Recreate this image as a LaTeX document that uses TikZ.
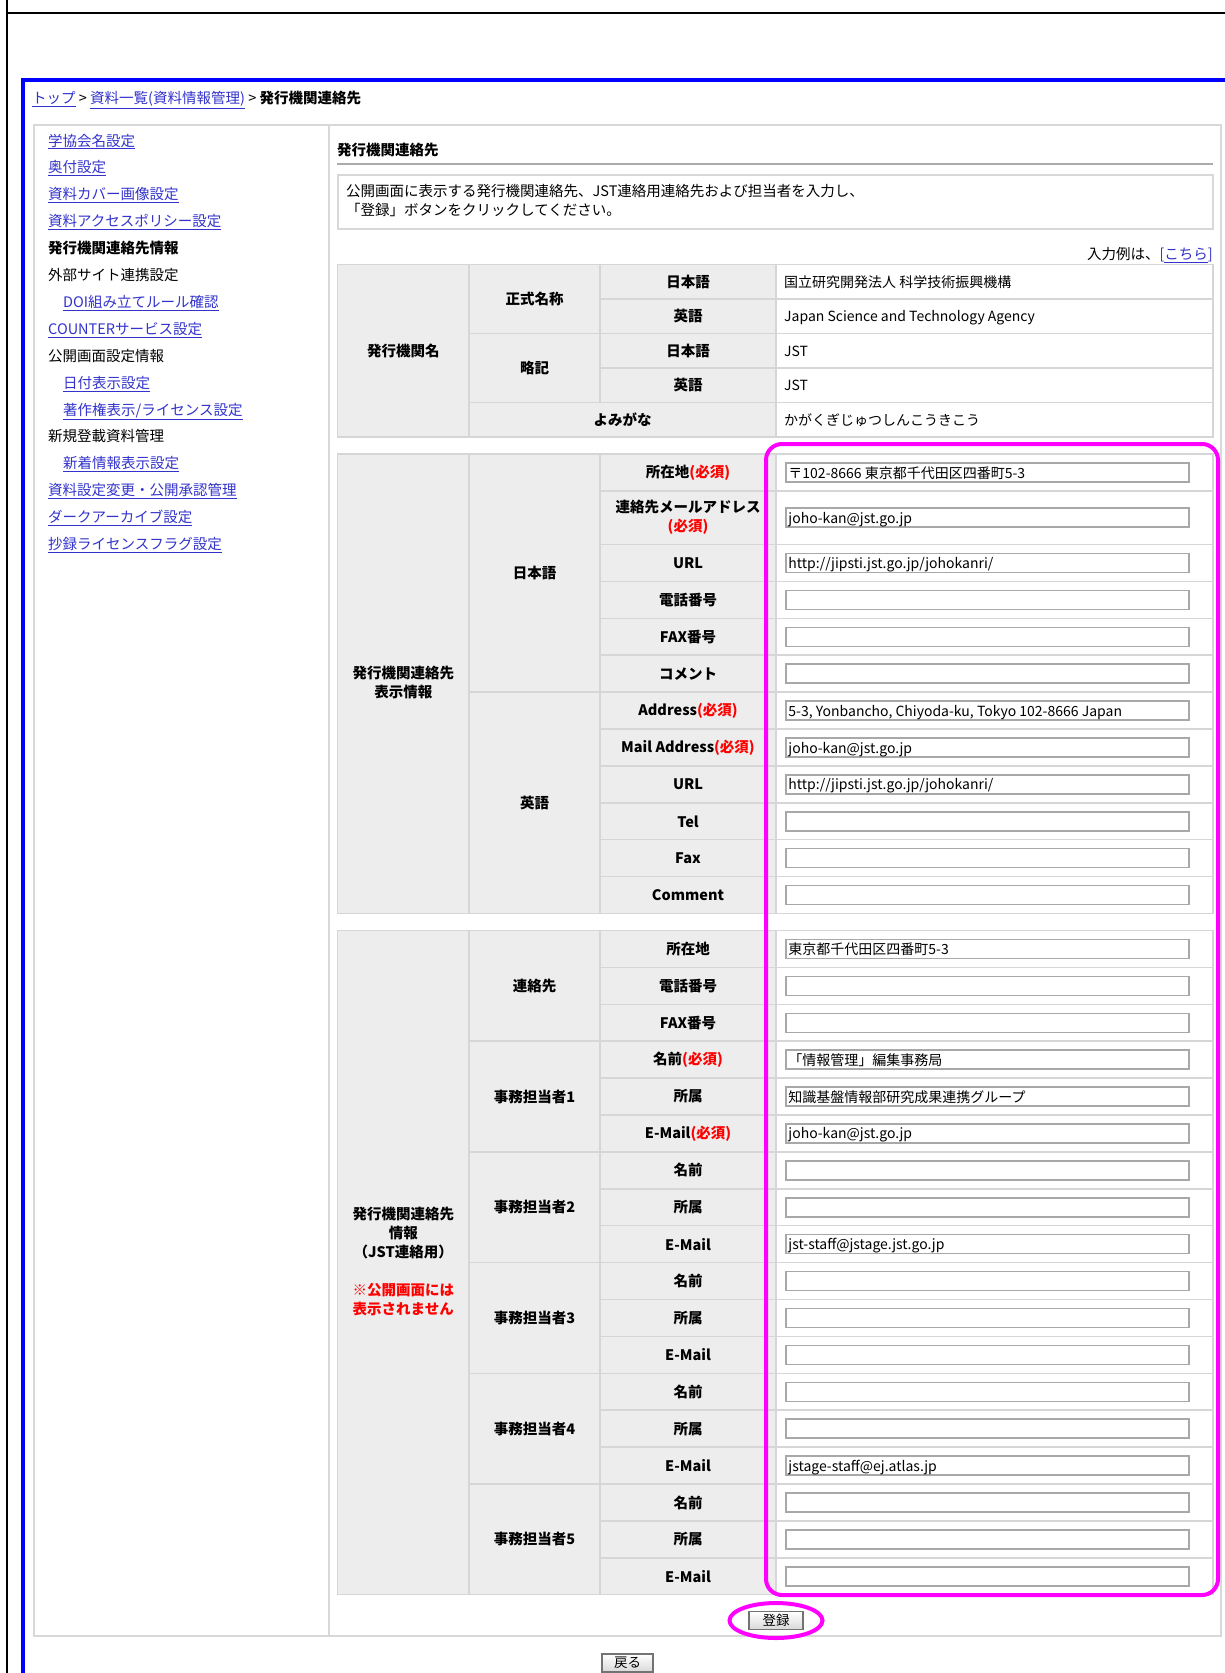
\documentclass[tikz,border=0pt]{standalone}
\usepackage{fontspec}
\setmainfont{Noto Sans CJK JP}
\usetikzlibrary{positioning}
\definecolor{frameblue}{RGB}{0,0,255}
\definecolor{linkblue}{RGB}{51,51,204}
\definecolor{cellgray}{RGB}{237,237,237}
\definecolor{cellline}{RGB}{214,214,214}
\definecolor{boxline}{RGB}{216,216,216}
\definecolor{fieldline}{RGB}{168,168,168}
\definecolor{markpink}{RGB}{255,0,255}
\definecolor{reqred}{RGB}{255,0,0}
\newcommand{\lnk}[1]{\textcolor{linkblue}{\underline{#1}}}
\newcommand{\req}{\textcolor{reqred}{(必須)}}
\tikzset{
  txt/.style={inner sep=0pt, text height=12pt, text depth=1pt, font=\fontsize{14.5}{19}\selectfont},
  menuitem/.style={txt, anchor=west},
  lbl/.style={inner sep=0pt, align=center, font=\fontsize{14.5}{19}\selectfont\bfseries},
  valtxt/.style={txt, anchor=west, font=\fontsize{14}{19}\selectfont},
  grid/.style={draw=cellline, line width=1.5pt},
  field/.style={draw=fieldline, fill=white, line width=1.5pt, minimum width=403pt, minimum height=19pt, inner sep=0pt},
  pushbtn/.style={draw=black!55, line width=1.2pt, top color=white, bottom color=black!15,
    minimum width=54pt, minimum height=18pt, inner sep=0pt, font=\fontsize{13.5}{16}\selectfont},
  hilite/.style={draw=markpink, line width=4pt}
}
\begin{document}
\begin{tikzpicture}[x=1pt,y=-1pt]
\useasboundingbox (0,0) rectangle (1225,1673);
\fill[white] (0,0) rectangle (1225,1673);
\draw[line width=2pt] (7,0) -- (7,1673);
\draw[line width=2pt] (7,12.7) -- (1225,12.7);
\draw[frameblue, line width=4pt] (23,1673) -- (23,80) -- (1225,80);
\node[txt, anchor=west] (crumb) at (32,98) {\lnk{トップ} > \lnk{資料一覧(資料情報管理)} > \textbf{発行機関連絡先}};
\draw[boxline, line width=2pt] (33.5,125) rectangle (1221,1636);
\draw[boxline, line width=2pt] (329,125) -- (329,1636);
\foreach \mx/\mtext [count=\i from 0] in {48/\lnk{学協会名設定}, 48/\lnk{奥付設定}, 48/\lnk{資料カバー画像設定},
  48/\lnk{資料アクセスポリシー設定}, 48/\textbf{発行機関連絡先情報}, 48/外部サイト連携設定, 63/\lnk{DOI組み立てルール確認},
  48/\lnk{COUNTERサービス設定}, 48/公開画面設定情報, 63/\lnk{日付表示設定}, 63/\lnk{著作権表示/ライセンス設定},
  48/新規登載資料管理, 63/\lnk{新着情報表示設定}, 48/\lnk{資料設定変更・公開承認管理}, 48/\lnk{ダークアーカイブ設定},
  48/\lnk{抄録ライセンスフラグ設定}}
  \node[menuitem] (menu\i) at (\mx,{140.5+26.9*\i}) {\mtext};
\node[txt, anchor=west, font=\fontsize{14.5}{19}\selectfont\bfseries] (title) at (337,150) {発行機関連絡先};
\draw[black!33, line width=1.5pt] (337,164) -- (1213,164);
\draw[boxline, line width=2pt] (337.5,174.5) rectangle (1213,229);
\node[txt, anchor=west] (intro1) at (346,191) {公開画面に表示する発行機関連絡先、JST連絡用連絡先および担当者を入力し、};
\node[txt, anchor=west] (intro2) at (346,210) {「登録」ボタンをクリックしてください。};
\node[txt, anchor=east] (example) at (1213,254) {入力例は、\textcolor{linkblue}{[\underline{こちら}]}};
\fill[cellgray] (337.5,264.5) rectangle (776,436.75);
\fill[white] (776,264.5) rectangle (1213,436.75);
\foreach \y in {298.95,367.85} \draw[grid] (600,\y) -- (1213,\y);
\foreach \y in {333.4,402.3} \draw[grid] (469,\y) -- (1213,\y);
\draw[grid] (469,264.5) -- (469,436.75) (600,264.5) -- (600,402.3) (776,264.5) -- (776,436.75);
\draw[grid] (337.5,264.5) rectangle (1213,436.75);
\node[lbl] (orgname) at (403.25,350.6) {発行機関名};
\node[lbl] (fullname) at (534.5,298.95) {正式名称};
\node[lbl] (abbr) at (534.5,367.85) {略記};
\node[lbl] (reading) at (622.5,419.5) {よみがな};
\foreach \lab/\val [count=\i from 0] in {日本語/国立研究開発法人 科学技術振興機構, 英語/Japan Science and Technology Agency, 日本語/JST, 英語/JST} {
  \node[lbl] (namelbl\i) at (688,{281.7+34.45*\i}) {\lab};
  \node[valtxt] (nameval\i) at (784,{281.7+34.45*\i}) {\val};
}
\node[valtxt] (readingval) at (784,419.5) {かがくぎじゅつしんこうきこう};
\fill[cellgray] (337.5,454) rectangle (776,913.5);
\fill[white] (776,454) rectangle (1213,913.5);
\foreach \y in {490.9,544.5,581.4,618.3,655.2,729,765.9,802.8,839.7,876.6} \draw[grid] (600,\y) -- (1213,\y);
\draw[grid] (469,692.1) -- (1213,692.1);
\draw[grid] (469,454) -- (469,913.5) (600,454) -- (600,913.5) (776,454) -- (776,913.5);
\draw[grid] (337.5,454) rectangle (1213,913.5);
\node[lbl] (display) at (403.25,682.3) {発行機関連絡先\\表示情報};
\node[lbl] (dispja) at (534.5,573) {日本語};
\node[lbl] (dispen) at (534.5,802.8) {英語};
\foreach \y/\lab/\val [count=\i] in {472.5/{所在地\req}/{〒102-8666 東京都千代田区四番町5-3},
  517.7/{連絡先メールアドレス\\\req}/{joho-kan@jst.go.jp}, 563/URL/{http://jipsti.jst.go.jp/johokanri/},
  599.9/電話番号/{}, 636.8/FAX番号/{}, 673.7/コメント/{},
  710.6/{Address\req}/{5-3, Yonbancho, Chiyoda-ku, Tokyo 102-8666 Japan}, 747.5/{Mail Address\req}/{joho-kan@jst.go.jp},
  784.4/URL/{http://jipsti.jst.go.jp/johokanri/}, 821.3/Tel/{}, 858.2/Fax/{}, 895.1/Comment/{}} {
  \node[lbl] (displbl\i) at (688,\y) {\lab};
  \node[field] (dispbox\i) at (987.5,\y) {};
  \node[valtxt] (dispval\i) at ([xshift=3pt]dispbox\i.west) {\val};
}
\fill[cellgray] (337.5,930.5) rectangle (776,1594.7);
\fill[white] (776,930.5) rectangle (1213,1594.7);
\foreach \k in {1,...,17} \draw[grid] (600,{930.5+36.9*\k}) -- (1213,{930.5+36.9*\k});
\foreach \k in {3,6,...,15} \draw[grid] (469,{930.5+36.9*\k}) -- (1213,{930.5+36.9*\k});
\draw[grid] (469,930.5) -- (469,1594.7) (600,930.5) -- (600,1594.7) (776,930.5) -- (776,1594.7);
\draw[grid] (337.5,930.5) rectangle (1213,1594.7);
\node[lbl] (jstinfo) at (403.25,1261) {発行機関連絡先\\情報\\（JST連絡用）\\[19pt]\textcolor{reqred}{※公開画面には}\\\textcolor{reqred}{表示されません}};
\node[lbl] (office) at (534.5,985.85) {連絡先};
\foreach \n in {1,...,5}
  \node[lbl] (staff\n) at (534.5,{930.5+36.9*(3*\n+1.5)}) {事務担当者\n};
\foreach \lab/\val [count=\i from 0] in {所在地/東京都千代田区四番町5-3, 電話番号/{}, FAX番号/{},
  {名前\req}/「情報管理」編集事務局, 所属/知識基盤情報部研究成果連携グループ, {E-Mail\req}/joho-kan@jst.go.jp,
  名前/{}, 所属/{}, E-Mail/jst-staff@jstage.jst.go.jp, 名前/{}, 所属/{}, E-Mail/{},
  名前/{}, 所属/{}, E-Mail/jstage-staff@ej.atlas.jp, 名前/{}, 所属/{}, E-Mail/{}} {
  \node[lbl] (jstlbl\i) at (688,{948.95+36.9*\i}) {\lab};
  \node[field] (jstbox\i) at (987.5,{948.95+36.9*\i}) {};
  \node[valtxt] (jstval\i) at ([xshift=3pt]jstbox\i.west) {\val};
}
\draw[hilite, rounded corners=16pt] (766,444) rectangle (1218,1595);
\node[pushbtn] (register) at (776,1620.5) {登録};
\draw[hilite] (register.center) ellipse [x radius=46.5pt, y radius=17.5pt];
\node[pushbtn, minimum width=51pt] (back) at (627.5,1663) {戻る};
\end{tikzpicture}
\end{document}
